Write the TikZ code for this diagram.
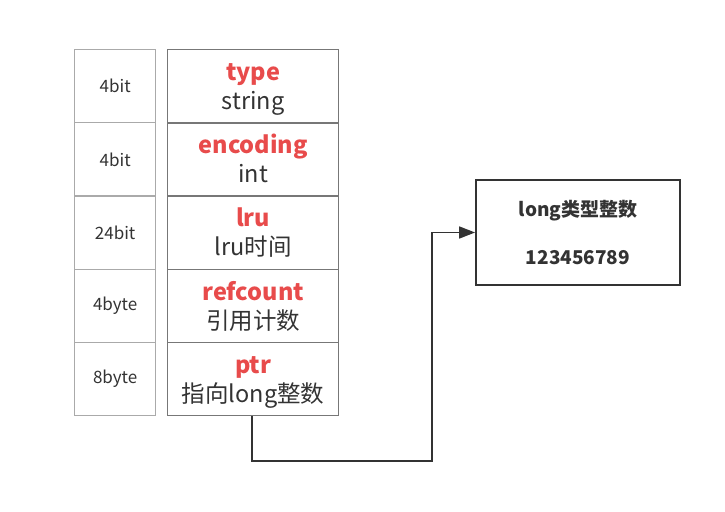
\documentclass[tikz,border=0pt]{standalone}
\usepackage{fontspec}
\setmainfont{Noto Sans CJK SC}
\usetikzlibrary{arrows.meta}
\definecolor{redtxt}{HTML}{E84B4B}
\definecolor{txt}{HTML}{333333}
\definecolor{lgray}{HTML}{AAAAAA}
\definecolor{dgray}{HTML}{777777}
\definecolor{line}{HTML}{333333}
\newcommand{\fld}[2]{\raisebox{0pt}[\dimexpr\height+6pt\relax][\depth]{\begin{tabular}{@{}c@{}}\textcolor{redtxt}{\bfseries #1}\\#2\end{tabular}}}
\tikzset{
  sizecell/.style={draw=lgray, line width=1.3pt, minimum width=81pt, minimum height=73.2pt, inner sep=0pt, anchor=north west, font=\fontsize{17}{20}\selectfont, text=txt},
  fieldcell/.style={draw=dgray, line width=1.4pt, minimum width=171pt, minimum height=73.2pt, inner sep=0pt, anchor=north west, font=\fontsize{23.5}{29}\selectfont, text=txt},
  valbox/.style={draw=line, line width=1.8pt, minimum width=204pt, minimum height=105pt, inner sep=0pt, align=center, font=\fontsize{19}{24}\selectfont\bfseries, text=txt},
  conn/.style={draw=line, line width=1.7pt, -{Triangle[length=16pt,width=12pt]}}
}
\begin{document}
\begin{tikzpicture}[x=1pt,y=1pt]
\useasboundingbox (0,0) rectangle (725,511);
\foreach \i/\s in {0/4bit,1/4bit,2/24bit,3/4byte,4/8byte}{
  \node[sizecell] (s\i) at (74,{462-73.2*\i}) {\s};
}
\node[fieldcell] (f0) at (167,462) {\fld{type}{string}};
\node[fieldcell] (f1) at (167,388.8) {\fld{encoding}{int}};
\node[fieldcell] (f2) at (167,315.6) {\fld{lru}{lru时间}};
\node[fieldcell] (f3) at (167,242.4) {\fld{refcount}{引用计数}};
\node[fieldcell] (f4) at (167,169.2) {\fld{ptr}{指向long整数}};
\node[valbox] (v) at (578,278.5) {long类型整数\\[24pt]123456789};
\coordinate (c1) at (252,50);
\coordinate (c2) at (432,50);
\draw[conn] (f4.south -| c1) -- (c1) -- (c2) |- (v.west);
\end{tikzpicture}
\end{document}
